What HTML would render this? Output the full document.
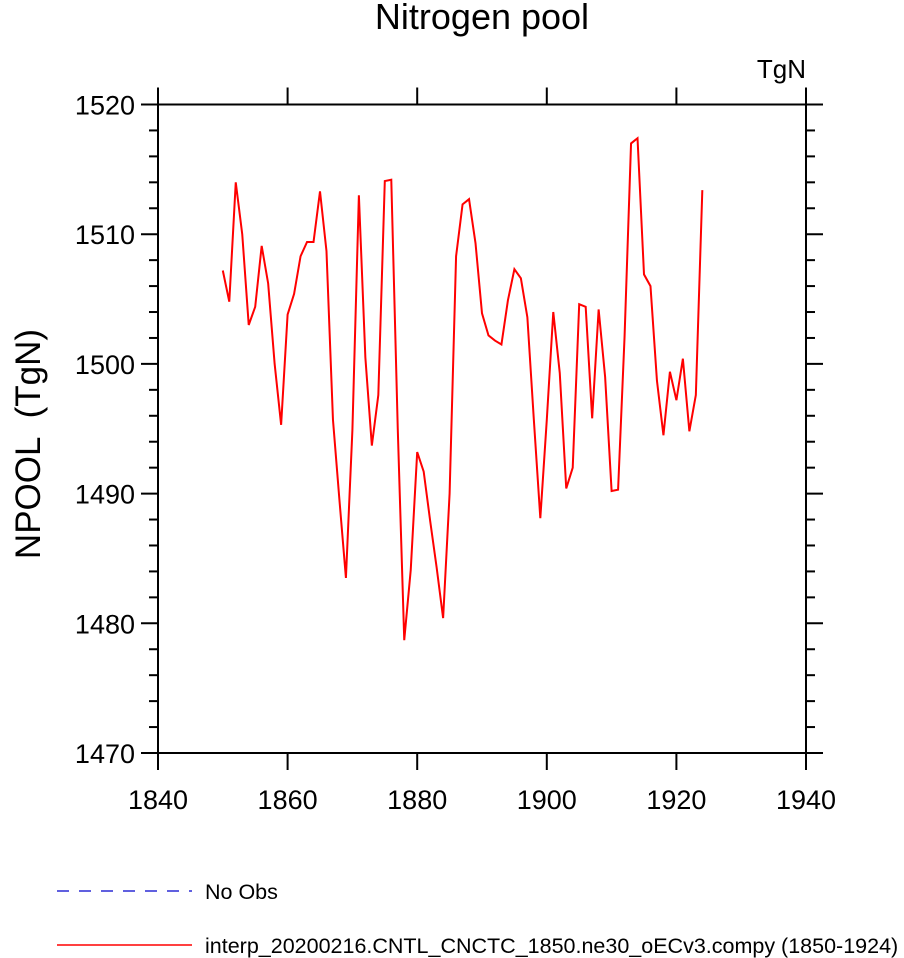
<!DOCTYPE html>
<html><head><meta charset="utf-8"><style>
body{margin:0;background:#fff;}
svg{display:block;font-family:"Liberation Sans",sans-serif;}
</style></head><body>
<svg id="chart" width="904" height="958" xmlns="http://www.w3.org/2000/svg">
<text x="482" y="29" font-size="36" text-anchor="middle">Nitrogen pool</text>
<text x="806" y="78" font-size="26" text-anchor="end">TgN</text>
<text transform="translate(40,444) rotate(-90)" font-size="35" text-anchor="middle" style="white-space:pre">NPOOL  (TgN)</text>
<g id="axes"></g>
<polyline id="series" fill="none" stroke="#f00" stroke-width="2"/>
<g>
<line x1="57" y1="891" x2="192" y2="891" stroke="#00c" stroke-width="1.2" stroke-dasharray="12,10"/>
<text x="205" y="899" font-size="21.5">No Obs</text>
<line x1="57" y1="945" x2="192" y2="945" stroke="#f00" stroke-width="1.5"/>
<text x="205" y="953" font-size="21.5">interp_20200216.CNTL_CNCTC_1850.ne30_oECv3.compy (1850-1924)</text>
</g>
</svg>
<script>
const years=[];for(let y=1850;y<=1924;y++)years.push(y);
const values=[1507.2,1504.8,1514,1510,1503,1504.4,1509.1,1506.2,1500,1495.3,
1503.8,1505.4,1508.3,1509.4,1509.4,1513.3,1508.7,1495.7,1489.5,1483.5,
1494.9,1513,1500.5,1493.7,1497.6,1514.1,1514.2,1495,1478.7,1484.1,
1493.2,1491.7,1487.9,1484.3,1480.4,1490,1508.3,1512.3,1512.7,1509.3,
1503.9,1502.2,1501.8,1501.5,1504.9,1507.3,1506.6,1503.6,1495.7,1488.1,
1495.7,1504,1499.3,1490.4,1492,1504.6,1504.4,1495.8,1504.2,1499,
1490.2,1490.3,1502.1,1517,1517.4,1506.9,1506,1498.7,1494.5,1499.4,
1497.2,1500.4,1494.8,1497.6,1513.4];
const xTicks=[1840,1860,1880,1900,1920,1940];
const yTicks=[1470,1480,1490,1500,1510,1520];
const L=158,R=806,T=104.5,B=753;
const xS=v=>L+(v-1840)/100*(R-L);
const yS=v=>B-(v-1470)/50*(B-T);
const NS="http://www.w3.org/2000/svg";
const ax=document.getElementById('axes');
function ln(x1,y1,x2,y2,name){const l=document.createElementNS(NS,'line');
l.setAttribute('x1',x1);l.setAttribute('y1',y1);l.setAttribute('x2',x2);l.setAttribute('y2',y2);
l.setAttribute('stroke','#000');l.setAttribute('stroke-width','2');


ax.appendChild(l);}
function tx(x,y,s,anchor,name){const t=document.createElementNS(NS,'text');
t.setAttribute('x',x);t.setAttribute('y',y);t.setAttribute('font-size','27');t.setAttribute('text-anchor',anchor);
t.textContent=s;


ax.appendChild(t);}
const fr=document.createElementNS(NS,'rect');
fr.setAttribute('x',L);fr.setAttribute('y',T);fr.setAttribute('width',R-L);fr.setAttribute('height',B-T);
fr.setAttribute('fill','none');fr.setAttribute('stroke','#000');fr.setAttribute('stroke-width','2');


ax.appendChild(fr);
xTicks.forEach(v=>{const x=xS(v);ln(x,B,x,B+17,'x-tick');ln(x,T,x,T-17,'x-tick-top');tx(x,B+56,String(v),'middle','x-tick-label');});
yTicks.forEach(v=>{const y=yS(v);ln(L,y,L-17,y,'y-tick');ln(R,y,R+17,y,'y-tick-right');tx(L-23,y+10,String(v),'end','y-tick-label');});
for(let v=1472;v<1520;v+=2){if(v%10===0)continue;const y=yS(v);ln(L,y,L-9,y,'y-minor-tick');ln(R,y,R+9,y,'y-minor-tick-right');}
document.getElementById('series').setAttribute('points',years.map((y,i)=>xS(y)+','+yS(values[i])).join(' '));
</script>
</body></html>
